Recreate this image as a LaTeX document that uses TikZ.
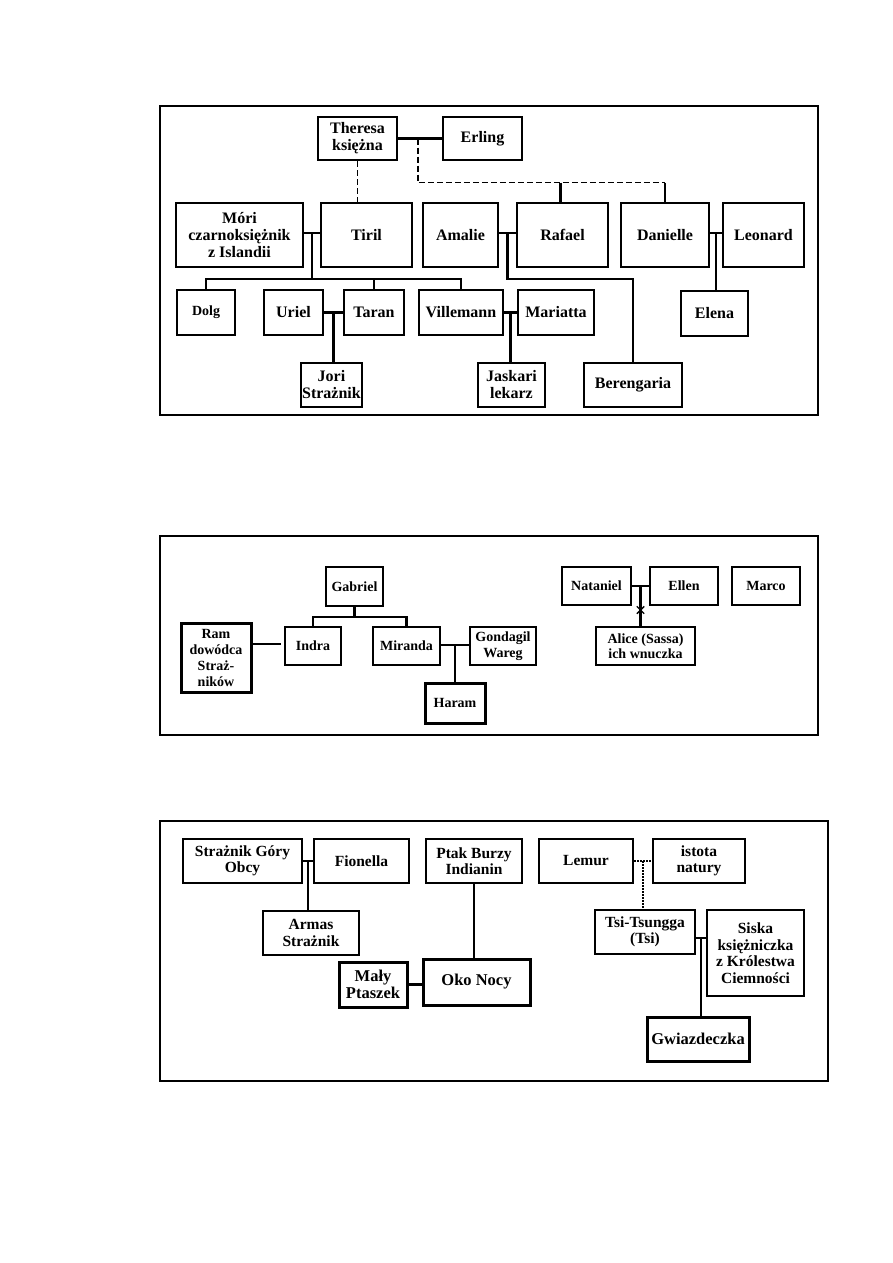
\documentclass[tikz,border=0pt]{standalone}
\usepackage{fontspec}
\setmainfont{Liberation Serif}
\usetikzlibrary{positioning, shapes.misc}

\begin{document}
\begin{tikzpicture}[
x=1pt, y=-1pt,
osoba/.style={rectangle, draw, line width=2pt, align=center, inner sep=0pt, font=\bfseries\fontsize{16}{17}\selectfont},
mala/.style={osoba, font=\bfseries\fontsize{14}{16}\selectfont},
dolna/.style={osoba, font=\bfseries\fontsize{15.5}{16.5}\selectfont},
gruba/.style={line width=3pt},
linia/.style={line width=2.2pt},
przerywana/.style={line width=1.8pt, dash pattern=on 6pt off 3pt},
kropki/.style={line width=1.8pt, dash pattern=on 1.5pt off 1.5pt},
ramka/.style={draw, line width=1.4pt},
krzyzyk/.style={cross out, draw, line width=1.4pt, fill=white, minimum size=6pt, inner sep=0pt}
]
\useasboundingbox[fill=white] (0,0) rectangle (893,1263);

% --- Panel górny ---
\draw[ramka] (160,106) rectangle (818,415);
\node[osoba, minimum width=79pt, minimum height=43pt] (theresa) at (357.5,138.5) {Theresa\\księżna};
\node[osoba, minimum width=79pt, minimum height=43pt] (erling) at (482.5,138.5) {Erling};
\node[osoba, minimum width=127pt, minimum height=64pt] (mori) at (239.5,235) {Móri\\czarnoksiężnik\\z Islandii};
\node[osoba, minimum width=91pt, minimum height=64pt] (tiril) at (366.5,235) {Tiril};
\node[osoba, minimum width=75pt, minimum height=64pt] (amalie) at (460.5,235) {Amalie};
\node[osoba, minimum width=91pt, minimum height=64pt] (rafael) at (562.5,235) {Rafael};
\node[osoba, minimum width=88pt, minimum height=64pt] (danielle) at (665,235) {Danielle};
\node[osoba, minimum width=81pt, minimum height=64pt] (leonard) at (763.5,235) {Leonard};
\node[mala, minimum width=58pt, minimum height=45pt] (dolg) at (206,312.5) {Dolg};
\node[osoba, minimum width=59pt, minimum height=45pt] (uriel) at (293.5,312.5) {Uriel};
\node[osoba, minimum width=60pt, minimum height=45pt] (taran) at (374,312.5) {Taran};
\node[osoba, minimum width=84pt, minimum height=45pt] (villemann) at (461,312.5) {Villemann};
\node[osoba, minimum width=76pt, minimum height=45pt] (mariatta) at (556,312.5) {Mariatta};
\node[osoba, minimum width=67pt, minimum height=45pt] (elena) at (714.5,313.5) {Elena};
\node[osoba, minimum width=61pt, minimum height=44pt] (jori) at (331.5,385) {Jori\\Strażnik};
\node[osoba, minimum width=67pt, minimum height=44pt] (jaskari) at (511.5,385) {Jaskari\\lekarz};
\node[osoba, minimum width=98pt, minimum height=44pt] (berengaria) at (633,385) {Berengaria};

\draw[linia] (theresa.east) -- coordinate[pos=0.45] (te) (erling.west);
\draw[przerywana] (theresa.south) -- (theresa.south |- tiril.north);
\draw[przerywana] (te) -- ++(0,44) coordinate (te1) -| ([xshift=-2pt]rafael.north |- te1) coordinate (te2) -| (danielle.north |- te1);
\draw[linia] (te2) -- ([xshift=-2pt]rafael.north);
\draw[linia] (danielle.north |- te1) -- (danielle.north);
\draw[linia] ([yshift=2pt]mori.east) -- coordinate[midway] (mt) ([yshift=2pt]tiril.west);
\draw[linia] (mt) -- ++(0,46) coordinate (mt1);
\draw[linia] (dolg.north) |- (mt1) -| (villemann.north);
\draw[linia] (taran.north |- mt1) -- (taran.north);
\draw[linia] (uriel.east) -- coordinate[midway] (ut) (taran.west);
\draw[linia] (ut) -- (ut |- jori.north);
\draw[linia] (villemann.east) -- coordinate[midway] (vm) (mariatta.west);
\draw[linia] (vm) -- (vm |- jaskari.north);
\draw[linia] ([yshift=2pt]amalie.east) -- coordinate[midway] (ar) ([yshift=2pt]rafael.west);
\draw[linia] (ar) -- ++(0,46) -| (berengaria.north);
\draw[linia] ([yshift=2pt]danielle.east) -- coordinate[midway] (dl) ([yshift=2pt]leonard.west);
\draw[linia] (dl) -- (dl |- elena.north);

% --- Panel środkowy ---
\draw[ramka] (160,536) rectangle (818,735);
\node[mala, minimum width=57pt, minimum height=39pt] (gabriel) at (354.5,586.5) {Gabriel};
\node[mala, minimum width=56pt, minimum height=38pt] (indra) at (313,646) {Indra};
\node[mala, minimum width=67pt, minimum height=38pt] (miranda) at (406.5,646) {Miranda};
\node[mala, minimum width=66pt, minimum height=38pt] (gondagil) at (503,646) {Gondagil\\Wareg};
\node[mala, gruba, minimum width=70pt, minimum height=69pt] (ram) at (216,657.5) {Ram\\dowódca\\Straż-\\ników};
\node[mala, gruba, minimum width=60pt, minimum height=40pt] (haram) at (455,703) {Haram};
\node[mala, minimum width=69pt, minimum height=38pt] (nataniel) at (596.5,586) {Nataniel};
\node[mala, minimum width=68pt, minimum height=38pt] (ellen) at (684,586) {Ellen};
\node[mala, minimum width=68pt, minimum height=38pt] (marco) at (766,586) {Marco};
\node[mala, minimum width=99pt, minimum height=38pt, font=\bfseries\fontsize{14}{15}\selectfont] (alice) at (645.5,646) {Alice (Sassa)\\ich wnuczka};

\draw[linia] (gabriel.south) -- ++(0,10) coordinate (g1);
\draw[linia] (indra.north) |- (g1) -| (miranda.north);
\draw[linia, shorten >=3pt] ([yshift=2pt]indra.west -| ram.east) -- ([yshift=2pt]indra.west);
\draw[linia] ([yshift=1pt]miranda.east) -- coordinate[midway] (mg) ([yshift=1pt]gondagil.west);
\draw[linia] (mg) -- (mg |- haram.north);
\draw[linia] (nataniel.east) -- coordinate[midway] (ne) (ellen.west);
\draw[linia] (ne) -- (ne |- alice.north);
\node[krzyzyk] (zmarla) at ([yshift=-24pt]ne) {};

% --- Panel dolny ---
\draw[ramka] (160,821) rectangle (828,1081);
\node[dolna, minimum width=119pt, minimum height=44pt] (straznik) at (242.5,861) {Strażnik Góry\\Obcy};
\node[dolna, minimum width=95pt, minimum height=44pt] (fionella) at (361.5,861) {Fionella};
\node[dolna, minimum width=96pt, minimum height=44pt] (armas) at (311,933) {Armas\\Strażnik};
\node[dolna, minimum width=96pt, minimum height=44pt] (ptak) at (474,861) {Ptak Burzy\\Indianin};
\node[dolna, gruba, minimum width=107pt, minimum height=46pt, font=\bfseries\fontsize{16.5}{17.5}\selectfont] (oko) at (476.5,982) {Oko Nocy};
\node[dolna, gruba, minimum width=68pt, minimum height=45pt, font=\bfseries\fontsize{16.5}{17.5}\selectfont] (maly) at (373,984.5) {Mały\\Ptaszek};
\node[dolna, minimum width=94pt, minimum height=44pt] (lemur) at (586,861) {Lemur};
\node[dolna, minimum width=92pt, minimum height=44pt] (istota) at (699,861) {istota\\natury};
\node[dolna, minimum width=100pt, minimum height=44pt] (tsi) at (645,932) {Tsi-Tsungga\\(Tsi)};
\node[dolna, minimum width=97pt, minimum height=86pt] (siska) at (755.5,953) {Siska\\księżniczka\\z Królestwa\\Ciemności};
\node[dolna, gruba, minimum width=102pt, minimum height=44pt, font=\bfseries\fontsize{16.5}{17.5}\selectfont] (gwiazdeczka) at (698,1039) {Gwiazdeczka};

\draw[linia] (straznik.east) -- coordinate[midway] (sf) (fionella.west);
\draw[linia] (sf) -- (sf |- armas.north);
\draw[linia] (ptak.south) -- (ptak.south |- oko.north);
\draw[linia] (maly.east) -- (maly.east -| oko.west);
\draw[kropki] (lemur.east) -- coordinate[midway] (li) (istota.west);
\draw[kropki] (li) -- (li |- tsi.north);
\draw[linia] ([yshift=-6pt]tsi.east) -- coordinate[midway] (ts) ([yshift=-6pt]tsi.east -| siska.west);
\draw[linia] (ts) -- (ts |- gwiazdeczka.north);

\end{tikzpicture}
\end{document}
